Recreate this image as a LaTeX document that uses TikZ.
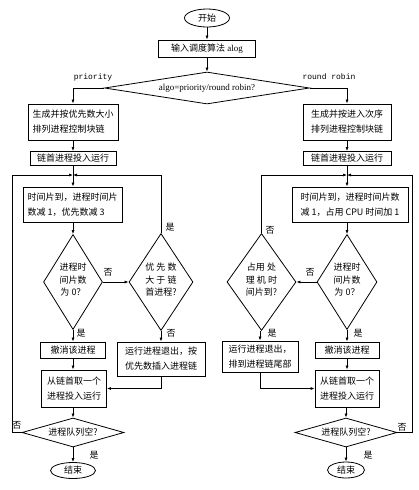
\documentclass[tikz,border=0pt]{standalone}
\usepackage{fontspec}
\setmainfont{Liberation Serif}
\newfontfamily\cjk{Noto Sans CJK SC}
\newfontfamily\monof{Liberation Mono}
\usetikzlibrary{shapes.geometric,arrows.meta}
\begin{document}
\begin{tikzpicture}[x=1pt,y=-1pt,
  box/.style={draw,line width=0.8pt,inner sep=2pt,font=\cjk\fontsize{9}{15}\selectfont,align=left},
  dia/.style={draw,diamond,line width=0.8pt,inner sep=0pt},
  term/.style={draw,ellipse,line width=0.8pt,inner sep=0pt,font=\cjk\fontsize{9}{10}\selectfont},
  dtxt/.style={font=\cjk\fontsize{9}{12.5}\selectfont,align=center,inner sep=0pt},
  arr/.style={-{Latex[length=4pt,width=3pt]},line width=0.7pt},
  lab/.style={font=\cjk\fontsize{9}{10}\selectfont,inner sep=1pt},
  mlab/.style={font=\monof\fontsize{8}{9}\selectfont,inner sep=1pt}]
\useasboundingbox (0,0) rectangle (419,490);

% top
\node[term, minimum width=45pt, minimum height=18pt] (start) at (207,18) {开始};
\node[box, minimum width=97pt, minimum height=17pt] (input) at (207,48.5) {输入调度算法 {\rmfamily alog}};
\node[dia, minimum width=205pt, minimum height=32pt] (d0) at (207,88) {};
\node[font=\fontsize{9}{10}\selectfont, inner sep=0pt] (d0t) at (207,88) {algo=priority/round robin?};
\node[mlab] (lprio) at (93,77) {priority};
\node[mlab] (lrr) at (329,77) {round robin};

% left column
\node[box, minimum width=90pt, minimum height=36pt] (lb1) at (73,122) {生成并按优先数大小\\排列进程控制块链};
\node[box, minimum width=86pt, minimum height=14pt] (lb2) at (73,158.5) {链首进程投入运行};
\node[box, minimum width=99pt, minimum height=35pt] (lb3) at (72.5,204.5) {时间片到，进程时间片\\数减 1，优先数减 3};
\node[dia, minimum width=59pt, minimum height=95pt] (L1) at (73,282) {};
\node[dtxt] (L1t) at (73,280) {进程时\\间片数\\为 0？};
\node[dia, minimum width=64pt, minimum height=97pt] (L2) at (161,282) {};
\node[dtxt] (L2t) at (161,280) {优 先 数\\大 于 链\\首进程?};
\node[box, minimum width=65pt, minimum height=16pt] (lc) at (73,350) {撤消该进程};
\node[box, minimum width=88pt, minimum height=34pt] (lx) at (161,359) {运行进程退出，按\\优先数插入进程链};
\node[box, minimum width=65pt, minimum height=37pt] (lt) at (74,388.5) {从链首取一个\\进程投入运行};
\node[dia, minimum width=102pt, minimum height=29pt] (lq) at (73,432.5) {};
\node[dtxt] (lqt) at (73,432.5) {进程队列空?};
\node[term, minimum width=45pt, minimum height=16pt] (lend) at (73,470.5) {结束};

% right column
\node[box, minimum width=88pt, minimum height=36pt] (rb1) at (347,122) {生成并按进入次序\\排列进程控制块链};
\node[box, minimum width=88pt, minimum height=14pt] (rb2) at (347,158.5) {链首进程投入运行};
\node[box, minimum width=116pt, minimum height=35pt] (rb3) at (350,204.5) {时间片到，进程时间片数\\减 1，占用 CPU 时间加 1};
\node[dia, minimum width=60pt, minimum height=95pt] (R1) at (347,282) {};
\node[dtxt] (R1t) at (347,280) {进程时\\间片数\\为 0？};
\node[dia, minimum width=69pt, minimum height=97pt] (R2) at (261.5,282) {};
\node[dtxt] (R2t) at (261.5,280) {占用 处\\理 机 时\\间片到?};
\node[box, minimum width=64pt, minimum height=16pt] (rc) at (347,350) {撤消该进程};
\node[box, minimum width=76pt, minimum height=31pt] (rx) at (260,356.5) {运行进程退出，\\排到进程链尾部};
\node[box, minimum width=64pt, minimum height=37pt] (rt) at (347,388.5) {从链首取一个\\进程投入运行};
\node[dia, minimum width=102pt, minimum height=29pt] (rq) at (346,432.5) {};
\node[dtxt] (rqt) at (346,432.5) {进程队列空?};
\node[term, minimum width=37pt, minimum height=16pt] (rend) at (346,470) {结束};

% junctions
\coordinate (jL) at (73,175);
\coordinate (jR) at (347,175);
\coordinate (lo1) at (12,175);
\coordinate (ro1) at (412,175);

% connectors top
\draw[arr] (start) -- (input);
\draw[arr] (input) -- (d0);
\draw[arr] (d0.west) -| (lb1.north);
\draw[arr] (d0.east) -| (rb1.north);

% left connectors
\draw[arr] (lb1) -- (lb2);
\draw[arr] (lb2.south) -- (lb2.south |- lb3.north);
\draw[arr] (lq.west) -| (lo1) -- (jL);
\draw[arr] (L2.north) |- (jL);
\draw[arr] (lb3.south -| L1.north) -- (L1.north);
\draw[arr] (L1.east) -- (L2.west);
\draw[arr] (L1.south) -- (lc.north);
\draw[arr] (L2.south) -- (lx.north);
\draw[arr] (lc.south) -- (lc.south |- lt.north);
\draw[arr] (lx.south) |- (lt.east);
\draw[arr] (lt.south -| lq.north) -- (lq.north);
\draw[arr] (lq.south) -- (lend.north);

% right connectors
\draw[arr] (rb1) -- (rb2);
\draw[arr] (rb2.south) -- (rb2.south |- rb3.north);
\draw[arr] (rq.east) -| (ro1) -- (jR);
\draw[arr] (R2.north) |- (jR);
\draw[arr] (rb3.south -| R1.north) -- (R1.north);
\draw[arr] (R1.west) -- (R2.east);
\draw[arr] (R1.south) -- (rc.north);
\draw[arr] (R2.south -| rx.north) -- (rx.north);
\draw[arr] (rc.south) -- (rt.north);
\draw[arr] (rx.south) |- (rt.west);
\draw[arr] (rt.south -| rq.north) -- (rq.north);
\draw[arr] (rq.south) -- (rend.north);

% labels
\node[lab] (n1) at (108,272) {否};
\node[lab] (y1) at (170,227) {是};
\node[lab] (y2) at (81,333) {是};
\node[lab] (n2) at (171,333) {否};
\node[lab] (n3) at (17,425) {否};
\node[lab] (y3) at (94,455) {是};
\node[lab] (n4) at (270,230) {否};
\node[lab] (n5) at (310,272) {否};
\node[lab] (y4) at (272,333) {是};
\node[lab] (y5) at (358,333) {是};
\node[lab] (n6) at (402,427) {否};
\node[lab] (y6) at (368,455) {是};
\end{tikzpicture}
\end{document}
